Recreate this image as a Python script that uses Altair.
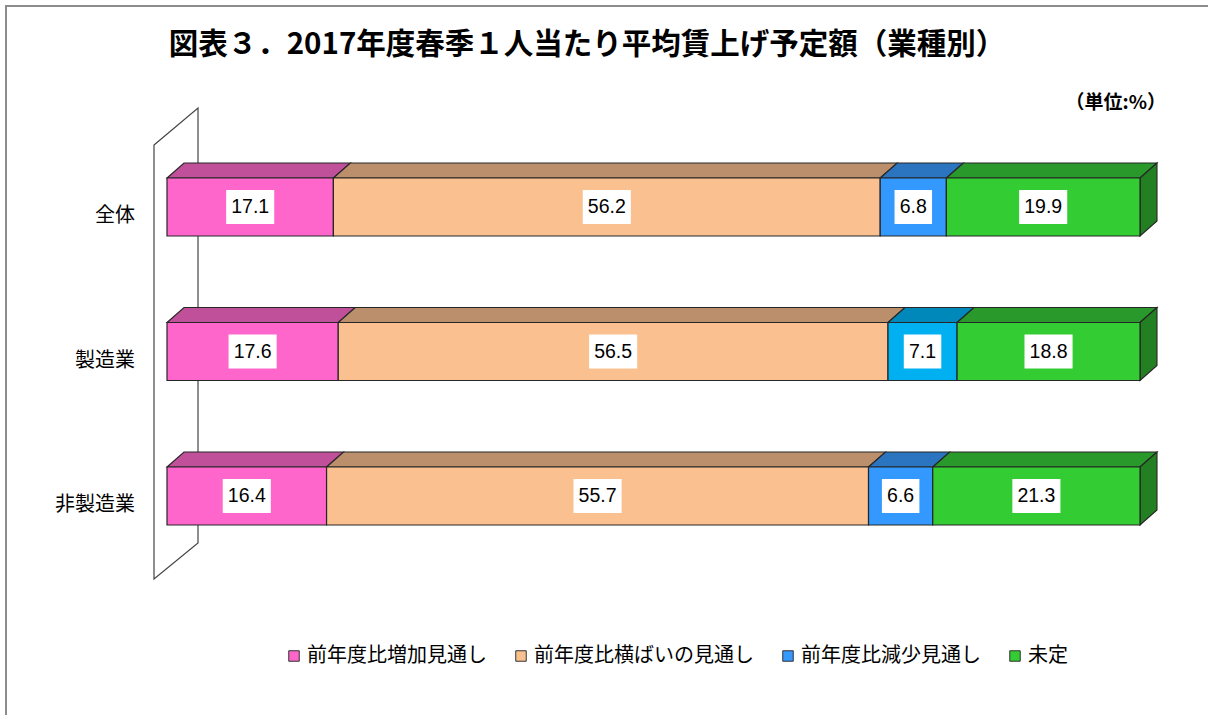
import altair as alt
import pandas as pd

# ---------------- data ----------------
categories = ["全体", "製造業", "非製造業"]
series_names = ["前年度比増加見通し", "前年度比横ばいの見通し", "前年度比減少見通し", "未定"]
increase = [17.1, 17.6, 16.4]
flat = [56.2, 56.5, 55.7]
decrease = [6.8, 7.1, 6.6]
undecided = [19.9, 18.8, 21.3]

title_text = "図表３．2017年度春季１人当たり平均賃上げ予定額（業種別）"
unit_text = "（単位:%）"

# ---------------- styles ----------------
front_colors = ["#FF66CC", "#FAC090", "#3399FF", "#33CC33"]
top_colors = ["#C0509A", "#BB8F6C", "#2A74C0", "#28992A"]
side_color = "#227F22"
row2_blue_front = "#00B0F0"
row2_blue_top = "#0088BB"
edge = "#262626"
JP = "Noto Sans CJK JP"
NUM = "Liberation Sans"

# geometry helpers (pixel sizes converted to scale units)
X_RANGE = [167, 1140]
Y_RANGE = [207, 496]
PX_X = 100 / (X_RANGE[1] - X_RANGE[0])
PX_Y = 2 / (Y_RANGE[1] - Y_RANGE[0])
HALF = 29 * PX_Y
DX = 17 * PX_X
DY = 15 * PX_Y

values = [increase, flat, decrease, undecided]

fronts, tops, sides, boxes = [], [], [], []
for i, cat in enumerate(categories):
    start = 0.0
    for j, s in enumerate(series_names):
        v = values[j][i]
        end = round(start + v, 4)
        fronts.append(dict(row=i, cat=cat, series=s, x0=start, x1=end,
                           y0=i - HALF, y1=i + HALF))
        yf = i - HALF
        yb = yf - DY
        tcol = top_colors[j]
        if j == 2 and i == 1:
            tcol = row2_blue_top
        sid = f"{i}-{j}"
        for xx, ya, yb2 in [(start, yf, yf), (start + DX, yb, yf),
                            (end, yb, yf), (end + DX, yb, yb)]:
            tops.append(dict(id=sid, x=xx, ya=ya, yb=yb2, fill=tcol))
        if j == len(series_names) - 1:
            sides.append(dict(id=f"s{i}", x=end, ya=yf, yb=yf + 2 * HALF))
            sides.append(dict(id=f"s{i}", x=end + DX, ya=yb, yb=yb + 2 * HALF))
        lab = f"{v:.1f}"
        mid = (start + end) / 2
        wpx = 10.6 * (len(lab) - 1) + 5.3 + 11
        boxes.append(dict(row=i, label=lab, mid=mid,
                          bx0=mid - wpx / 2 * PX_X, bx1=mid + wpx / 2 * PX_X,
                          by0=i - 17 * PX_Y, by1=i + 17 * PX_Y))
        start = end

fronts_df = pd.DataFrame(fronts)
tops_df = pd.DataFrame(tops)
sides_df = pd.DataFrame(sides)
boxes_df = pd.DataFrame(boxes)
cats_df = pd.DataFrame(dict(cat=categories, row=list(range(len(categories)))))

# back wall (decorative parallelogram)
wx0, wx1 = (154 - 167) * PX_X, (198 - 167) * PX_X
wall_df = pd.DataFrame([
    dict(x=wx0, ya=(145 - 207) * PX_Y, yb=(579 - 207) * PX_Y),
    dict(x=wx1, ya=(108 - 207) * PX_Y, yb=(543 - 207) * PX_Y),
])

xs = alt.Scale(domain=[0, 100], range=X_RANGE, nice=False, zero=False)
ys = alt.Scale(domain=[0, 2], range=Y_RANGE, nice=False, zero=False)

wall = alt.Chart(wall_df).mark_area(fill="transparent", stroke="#444444", strokeWidth=1.2,
                                    orient="vertical").encode(
    x=alt.X("x:Q", scale=xs, axis=None),
    y=alt.Y("ya:Q", scale=ys, axis=None),
    y2="yb:Q",
)

top_faces = alt.Chart(tops_df).mark_area(stroke=edge, strokeWidth=1.1, opacity=1,
                                         orient="vertical").encode(
    x=alt.X("x:Q", scale=xs, axis=None),
    y=alt.Y("ya:Q", scale=ys, axis=None),
    y2="yb:Q",
    detail="id:N",
    fill=alt.Fill("fill:N", scale=None),
)

side_faces = alt.Chart(sides_df).mark_area(stroke=edge, strokeWidth=1.1, fill=side_color,
                                           orient="vertical").encode(
    x=alt.X("x:Q", scale=xs, axis=None),
    y=alt.Y("ya:Q", scale=ys, axis=None),
    y2="yb:Q",
    detail="id:N",
)

front = alt.Chart(fronts_df).mark_rect(stroke=edge, strokeWidth=1.2, opacity=1).encode(
    x=alt.X("x0:Q", scale=xs, axis=None),
    x2="x1:Q",
    y=alt.Y("y0:Q", scale=ys, axis=None),
    y2="y1:Q",
    color=alt.condition(
        "datum.row == 1 && datum.series == '前年度比減少見通し'",
        alt.value(row2_blue_front),
        alt.Color(
            "series:N",
            scale=alt.Scale(domain=series_names, range=front_colors),
            legend=alt.Legend(
                title=None, orient="none", legendX=284, legendY=646,
                direction="horizontal", symbolType="square", symbolSize=110,
                symbolStrokeColor="#333333", symbolStrokeWidth=1,
                labelFont=JP, labelFontSize=20, labelColor="#000000",
                labelOffset=3, columnPadding=24, padding=0,
                labelLimit=400,
            ),
        ),
    ),
)

box = alt.Chart(boxes_df).mark_rect(fill="white").encode(
    x=alt.X("bx0:Q", scale=xs, axis=None),
    x2="bx1:Q",
    y=alt.Y("by0:Q", scale=ys, axis=None),
    y2="by1:Q",
)

box_text = alt.Chart(boxes_df).mark_text(font=NUM, fontSize=19.5, color="#000000",
                                         align="center", baseline="middle").encode(
    x=alt.X("mid:Q", scale=xs, axis=None),
    y=alt.Y("row:Q", scale=ys, axis=None),
    text="label:N",
)

cat_labels = alt.Chart(cats_df).mark_text(font=JP, fontSize=20, color="#000000",
                                          align="right", baseline="middle", dy=9).encode(
    x=alt.X("lx:Q", scale=xs, axis=None),
    y=alt.Y("row:Q", scale=ys, axis=None),
    text="cat:N",
).transform_calculate(lx=str((135 - 167) * PX_X))

title = alt.Chart(pd.DataFrame(dict(t=[title_text]))).mark_text(
    font=JP, fontSize=29.5, fontWeight="bold", color="#000000",
    align="center", baseline="middle").encode(
    x=alt.value(587), y=alt.value(45), text="t:N")

unit = alt.Chart(pd.DataFrame(dict(t=[unit_text]))).mark_text(
    font=JP, fontSize=19, fontWeight="bold", color="#000000",
    align="right", baseline="middle").encode(
    x=alt.value(1166), y=alt.value(103), text="t:N")

frame_left = alt.Chart(pd.DataFrame(dict(a=[0]))).mark_rule(color="#8C8C8C", strokeWidth=2).encode(
    x=alt.value(6), y=alt.value(6), y2=alt.value(715))
frame_top = alt.Chart(pd.DataFrame(dict(a=[0]))).mark_rule(color="#8C8C8C", strokeWidth=2).encode(
    x=alt.value(5), x2=alt.value(1208), y=alt.value(6))

chart = alt.layer(
    frame_left, frame_top, wall, top_faces, side_faces, front, box, box_text,
    cat_labels, title, unit,
).properties(
    width=1208, height=715,
    autosize=alt.AutoSizeParams(type="none"),
    padding=0,
    background="white",
).configure_view(strokeWidth=0)

chart.save("out.html", embed_options={"renderer": "svg", "actions": False})
